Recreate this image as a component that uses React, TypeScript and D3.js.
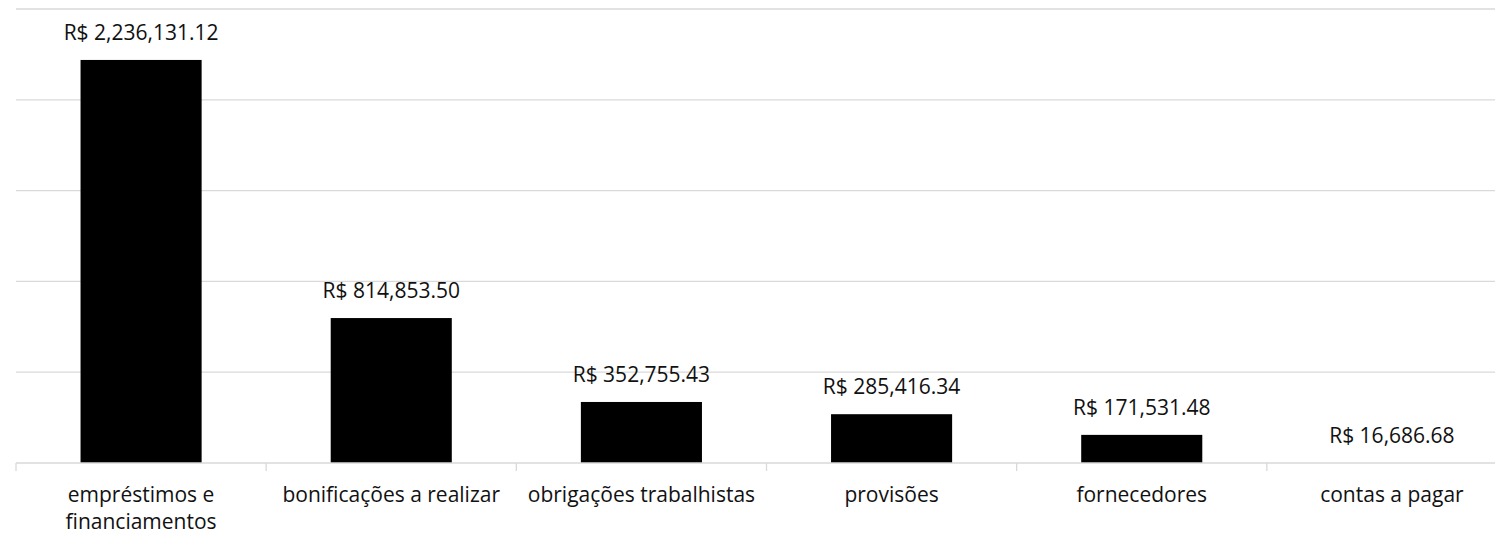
import React, { useEffect, useRef } from 'react';
import * as d3 from 'd3';

const categories = [
  'empréstimos e financiamentos',
  'bonificações a realizar',
  'obrigações trabalhistas',
  'provisões',
  'fornecedores',
  'contas a pagar',
];
const values = [2236131.12, 814853.5, 352755.43, 285416.34, 171531.48, 16686.68];
// axis starts at the smallest value, so the last bar sits on the baseline
const yTicks = [16686.68, 516686.68, 1016686.68, 1516686.68, 2016686.68, 2516686.68];

const W = 1495;
const H = 534;

// greedy wrap by character count, good enough for these labels
const wrap = (s: string, max = 24) => {
  const lines: string[] = [];
  let cur = '';
  s.split(' ').forEach(w => {
    if (cur && (cur + ' ' + w).length > max) {
      lines.push(cur);
      cur = w;
    } else {
      cur = cur ? cur + ' ' + w : w;
    }
  });
  if (cur) lines.push(cur);
  return lines;
};

const App = () => {
  const ref = useRef<SVGSVGElement>(null);

  useEffect(() => {
    const svg = d3.select(ref.current);
    svg.selectAll('*').remove();
    const font = '"Open Sans", sans-serif';

    const x = d3.scaleBand<string>()
      .domain(categories)
      .range([16, 1517])
      .paddingInner(0.516)
      .paddingOuter(0.258);

    const y = d3.scaleLinear()
      .domain([yTicks[0], yTicks[yTicks.length - 1]])
      .range([463, 9]);

    // gridlines
    svg.append('g')
      .selectAll('line')
      .data(yTicks.slice(1))
      .enter()
      .append('line')
      .attr('x1', 16)
      .attr('x2', W)
      .attr('y1', d => y(d))
      .attr('y2', d => y(d))
      .attr('stroke', '#d9d9d9')
      .attr('stroke-width', 1.3);

    // bars
    svg.selectAll('.bar')
      .data(values)
      .enter()
      .append('rect')
      .attr('class', 'bar')
      .attr('x', (d, i) => x(categories[i])!)
      .attr('y', d => y(d))
      .attr('width', x.bandwidth())
      .attr('height', d => Math.max(0, y(yTicks[0]) - y(d)))
      .attr('fill', '#000');

    // baseline + ticks
    const y0 = y(yTicks[0]);
    svg.append('line')
      .attr('x1', 16)
      .attr('x2', W)
      .attr('y1', y0)
      .attr('y2', y0)
      .attr('stroke', '#d9d9d9')
      .attr('stroke-width', 1.3);

    const step = x.step();
    svg.append('g')
      .selectAll('line')
      .data(d3.range(categories.length + 1))
      .enter()
      .append('line')
      .attr('x1', i => 16 + i * step)
      .attr('x2', i => 16 + i * step)
      .attr('y1', y0)
      .attr('y2', y0 + 8)
      .attr('stroke', '#d9d9d9')
      .attr('stroke-width', 1.3);

    // value labels
    const fmt = d3.format(',.2f');
    svg.selectAll('.val')
      .data(values)
      .enter()
      .append('text')
      .attr('class', 'val')
      .attr('x', (d, i) => x(categories[i])! + x.bandwidth() / 2)
      .attr('y', d => y(d) - 20)
      .attr('text-anchor', 'middle')
      .attr('font-family', font)
      .attr('font-size', 21)
      .attr('fill', '#111')
      .text(d => 'R$ ' + fmt(d));

    // category labels
    const cat = svg.selectAll('.cat')
      .data(categories)
      .enter()
      .append('text')
      .attr('class', 'cat')
      .attr('x', d => x(d)! + x.bandwidth() / 2)
      .attr('y', 502)
      .attr('text-anchor', 'middle')
      .attr('font-family', font)
      .attr('font-size', 21)
      .attr('fill', '#111');

    cat.each(function (d) {
      const t = d3.select(this);
      wrap(d).forEach((line, j) => {
        t.append('tspan')
          .attr('x', x(d)! + x.bandwidth() / 2)
          .attr('dy', j === 0 ? 0 : 27)
          .text(line);
      });
    });
  }, []);

  return (
    <svg
      ref={ref}
      width={W}
      height={H}
      style={{ position: 'absolute', left: 0, top: 0, background: '#fff' }}
    ></svg>
  );
};

export default App;
